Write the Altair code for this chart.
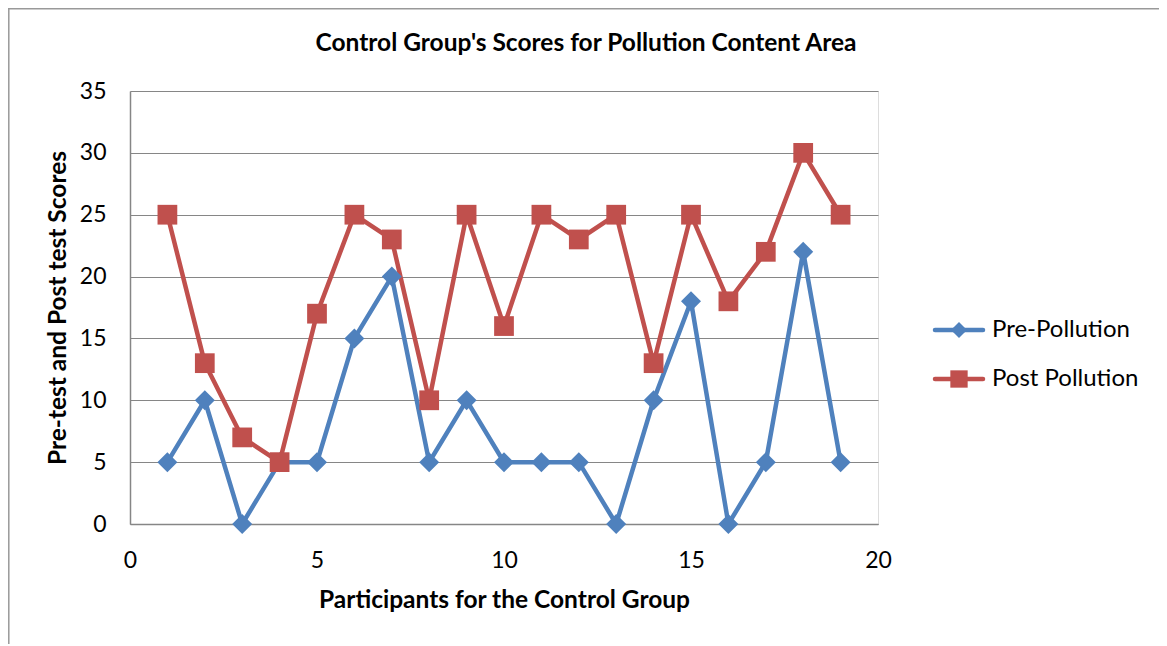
import altair as alt
import pandas as pd

participants = list(range(1, 20))
pre_scores = [5, 10, 0, 5, 5, 15, 20, 5, 10, 5, 5, 5, 0, 10, 18, 0, 5, 22, 5]
post_scores = [25, 13, 7, 5, 17, 25, 23, 10, 25, 16, 25, 23, 25, 13, 25, 18, 22, 30, 25]
series_names = ["Pre-Pollution", "Post Pollution"]
series_colors = ["#4F81BD", "#C0504D"]
x_ticks = [0, 5, 10, 15, 20]
y_ticks = [0, 5, 10, 15, 20, 25, 30, 35]
chart_title = "Control Group's Scores for Pollution Content Area"
x_title = "Participants for the Control Group"
y_title = "Pre-test and Post test Scores"

FONT = "Lato"

rows = []
for p, v in zip(participants, pre_scores):
    rows.append({"participant": p, "score": v, "series": series_names[0]})
for p, v in zip(participants, post_scores):
    rows.append({"participant": p, "score": v, "series": series_names[1]})
df = pd.DataFrame(rows)

W, H = 748, 433

x_enc = alt.X("participant:Q", scale=alt.Scale(domain=[0, 20], nice=False),
              axis=alt.Axis(values=x_ticks, title=x_title,
                            grid=False, ticks=False, labelPadding=25, labelFlush=False,
                            titleX=W / 2, titleY=76, titleBaseline="middle", titleAlign="center",
                            domainColor="#868686", domainWidth=1.5,
                            labelFontSize=23, labelFont=FONT, labelColor="#000",
                            titleFontSize=24.5, titleFont=FONT, titleFontWeight="bold",
                            titleColor="#000"))
y_enc = alt.Y("score:Q", scale=alt.Scale(domain=[0, 35], nice=False),
              axis=alt.Axis(values=y_ticks, title=y_title,
                            grid=True, gridColor="#868686", gridWidth=1.2,
                            ticks=False, labelPadding=24, labelFlush=False,
                            titleX=-72, titleY=H / 2, titleAngle=270,
                            titleBaseline="middle", titleAlign="center",
                            domainColor="#868686", domainWidth=1.5,
                            labelFontSize=23, labelFont=FONT, labelColor="#000",
                            titleFontSize=24.5, titleFont=FONT, titleFontWeight="bold",
                            titleColor="#000"))

base = alt.Chart(df)

layers = []
shapes = ["diamond", "square"]
sizes = [400, 390]
for name, col in zip(series_names, series_colors):
    layers.append(base.transform_filter(alt.datum.series == name)
                  .mark_line(color=col, strokeWidth=4.5)
                  .encode(x=x_enc, y=y_enc))
for name, col, shp, sz in zip(series_names, series_colors, shapes, sizes):
    layers.append(base.transform_filter(alt.datum.series == name)
                  .mark_point(color=col, filled=True, shape=shp, size=sz, opacity=1, clip=False)
                  .encode(x=x_enc, y=y_enc))

# manual legend (line + marker + label)
legend_sizes = [260, 300]
for i, (name, col, shp, sz) in enumerate(zip(series_names, series_colors, shapes, legend_sizes)):
    ly = 239 + 49 * i
    ldf = pd.DataFrame({"label": [name]})
    layers.append(alt.Chart(ldf).mark_rule(color=col, strokeWidth=4.5, strokeCap="round", clip=False)
                  .encode(x=alt.value(805), x2=alt.value(853), y=alt.value(ly)))
    layers.append(alt.Chart(ldf).mark_point(color=col, filled=True, shape=shp, size=sz, opacity=1, clip=False)
                  .encode(x=alt.value(829), y=alt.value(ly)))
    layers.append(alt.Chart(ldf).mark_text(font=FONT, fontSize=24, color="#000", align="left",
                                           baseline="middle", clip=False)
                  .encode(text="label:N", x=alt.value(862), y=alt.value(ly)))

title_layer = alt.Chart(pd.DataFrame({"t": [chart_title]})).mark_text(
    font=FONT, fontSize=24.5, fontWeight="bold", color="#000", baseline="middle", align="center"
).encode(text="t:N", x=alt.value(456), y=alt.value(-47))
layers.append(title_layer)

border_df = pd.DataFrame({"k": [0]})
top_border = alt.Chart(border_df).mark_rule(color="#999999", strokeWidth=1.5, clip=False).encode(
    x=alt.value(-122), x2=alt.value(1060), y=alt.value(-82.2))
left_border = alt.Chart(border_df).mark_rule(color="#999999", strokeWidth=1.5, clip=False).encode(
    x=alt.value(-121.2), y=alt.value(-83), y2=alt.value(560))
layers += [top_border, left_border]

chart = alt.layer(*layers).properties(
    width=W, height=H,
    autosize=alt.AutoSizeParams(type="none"),
    padding={"left": 122, "top": 83, "right": 281, "bottom": 120},
).configure_view(stroke=None).configure(background="white")

chart.save("out.html", embed_options={"renderer": "svg", "actions": False})
